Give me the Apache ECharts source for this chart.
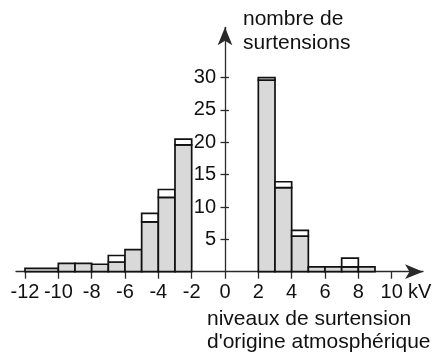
<!DOCTYPE html>
<html>
<head>
<meta charset="utf-8">
<script src="https://cdn.jsdelivr.net/npm/echarts@6/dist/echarts.min.js"></script>
<style>html,body{margin:0;padding:0;background:#fff;}#c{width:434px;height:358px;}</style>
</head>
<body>
<div id="c"></div>
<script>
// Bins (kV) and counts
var binStart = [-12, -10, -9, -8, -7, -6, -5, -4, -3, 2, 3, 4, 5, 6, 7, 8];
var binEnd   = [-10,  -9, -8, -7, -6, -5, -4, -3, -2, 3, 4, 5, 6, 7, 8, 9];
var grayValues  = [0.5, 1.3, 1.3, 1.15, 1.5, 3.4, 7.7, 11.5, 19.6, 29.6, 13.0, 5.5, 0.75, 0.75, 0.75, 0.75];
var totalValues = [0.5, 1.3, 1.3, 1.15, 2.5, 3.4, 9.0, 12.7, 20.5, 30.0, 13.9, 6.4, 0.75, 0.75, 2.1, 0.75];
var xTicks = [-12, -10, -8, -6, -4, -2, 0, 2, 4, 6, 8, 10];
var yTicks = [5, 10, 15, 20, 25, 30];

var data = binStart.map(function (s, i) {
  return [s, binEnd[i], grayValues[i], totalValues[i]];
});

var FONT = "'Liberation Sans', Arial, sans-serif";
var AXIS = '#2a2a2a';
var X_MIN = -12.54, X_MAX = 11.88, Y_MAX = 37.77;
var GRID_L = 16, GRID_R = 11, GRID_T = 27.3, GRID_B = 86.3;
// pixel position of x = 0 (where the count axis stands)
var zeroPx = GRID_L + (0 - X_MIN) / (X_MAX - X_MIN) * (434 - GRID_L - GRID_R);

var chart = echarts.init(document.getElementById('c'), null, {renderer: 'canvas'});
chart.setOption({
  animation: false,
  backgroundColor: '#fff',
  grid: [
    {left: GRID_L, right: GRID_R, top: GRID_T, bottom: GRID_B, outerBoundsMode: 'none', containLabel: false},
    {left: zeroPx, right: GRID_R, top: GRID_T, bottom: GRID_B, outerBoundsMode: 'none', containLabel: false}
  ],
  xAxis: [{
    gridIndex: 0, type: 'value', min: X_MIN, max: X_MAX,
    splitLine: {show: false},
    axisLine: {show: true, onZero: false, symbol: ['none', 'arrow'], symbolSize: [11, 18],
      lineStyle: {color: AXIS, width: 1.3}},
    axisTick: {show: true, customValues: xTicks, length: 7, lineStyle: {color: AXIS, width: 1.3}},
    axisLabel: {customValues: xTicks, margin: 10.5, color: '#111', fontSize: 20, fontFamily: FONT}
  }, {
    gridIndex: 1, type: 'value', min: 0, max: 1, show: false
  }],
  yAxis: [{
    gridIndex: 0, type: 'value', min: 0, max: Y_MAX, show: false
  }, {
    gridIndex: 1, type: 'value', min: 0, max: Y_MAX, position: 'left',
    splitLine: {show: false},
    axisLine: {show: true, onZero: false, symbol: ['none', 'arrow'], symbolSize: [11, 18],
      lineStyle: {color: AXIS, width: 1.3}},
    axisTick: {show: true, customValues: yTicks, length: 4.5, lineStyle: {color: AXIS, width: 1.3}},
    axisLabel: {customValues: yTicks, margin: 9, color: '#111', fontSize: 20, fontFamily: FONT}
  }, {
    gridIndex: 1, type: 'value', min: 0, max: Y_MAX, position: 'left',
    splitLine: {show: false},
    axisLine: {show: false, onZero: false},
    axisTick: {show: true, inside: true, customValues: yTicks, length: 4, lineStyle: {color: AXIS, width: 1.3}},
    axisLabel: {show: false}
  }],
  series: [{
    type: 'custom',
    xAxisIndex: 0, yAxisIndex: 0,
    clip: false,
    encode: {x: [0, 1], y: [2, 3]},
    data: data,
    renderItem: function (params, api) {
      var s = api.value(0), e = api.value(1), g = api.value(2), t = api.value(3);
      var p0 = api.coord([s, 0]);
      var pg = api.coord([e, g]);
      var pt = api.coord([e, t]);
      var children = [{
        type: 'rect',
        shape: {x: p0[0], y: pg[1], width: pg[0] - p0[0], height: p0[1] - pg[1]},
        style: {fill: '#d9d9d9', stroke: '#111', lineWidth: 1.7}
      }];
      if (t > g) {
        children.push({
          type: 'rect',
          shape: {x: p0[0], y: pt[1], width: pt[0] - p0[0], height: pg[1] - pt[1]},
          style: {fill: '#fff', stroke: '#111', lineWidth: 1.7}
        });
      }
      return {type: 'group', children: children};
    }
  }],
  graphic: [
    {type: 'text', left: 243, top: 7.5,
      style: {text: 'nombre de\nsurtensions', font: '21px ' + FONT, fill: '#111', lineHeight: 23.5}},
    {type: 'text', left: 207, top: 308,
      style: {text: 'niveaux de surtension\nd\'origine atmosphérique', font: '21px ' + FONT, fill: '#111', lineHeight: 23}},
    {type: 'text', left: 408, top: 282.5,
      style: {text: 'kV', font: '20px ' + FONT, fill: '#111'}}
  ]
});
</script>
</body>
</html>
